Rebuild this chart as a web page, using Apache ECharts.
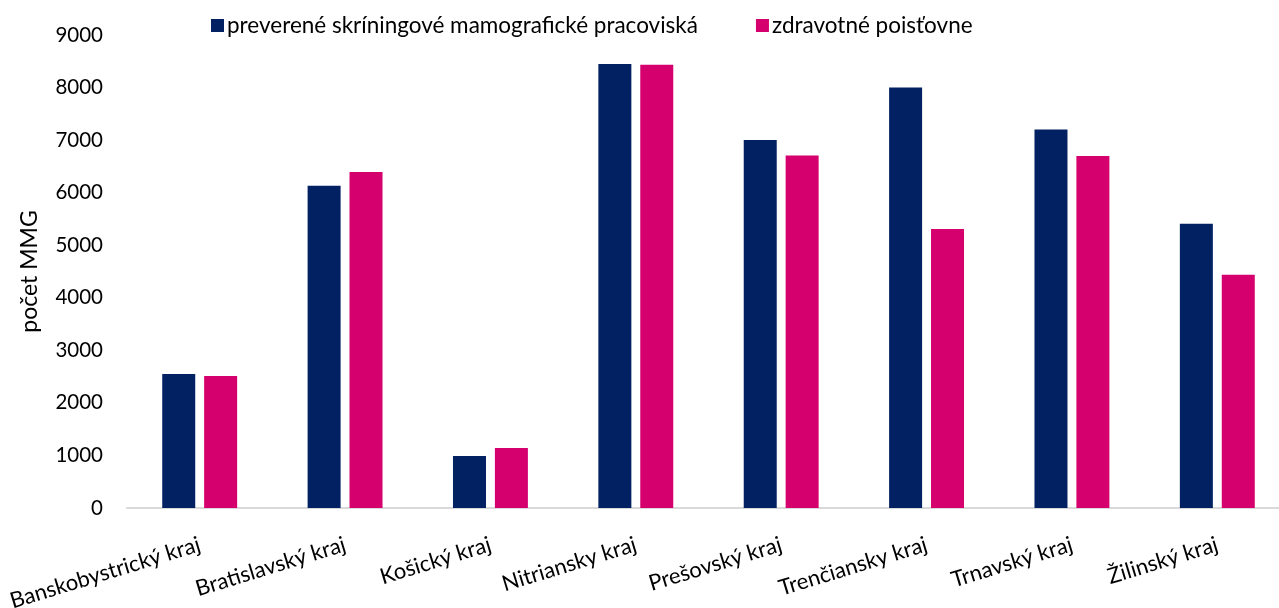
<!DOCTYPE html>
<html>
<head>
<meta charset="utf-8">
<script src="https://cdn.jsdelivr.net/npm/echarts@6/dist/echarts.min.js"></script>
<style>html,body{margin:0;padding:0;background:#fff}#c{width:1279px;height:608px}</style>
</head>
<body>
<div id="c"></div>
<script>
const categories = ['Banskobystrický kraj','Bratislavský kraj','Košický kraj','Nitriansky kraj','Prešovský kraj','Trenčiansky kraj','Trnavský kraj','Žilinský kraj'];
const seriesNames = ['preverené skríningové mamografické pracoviská','zdravotné poisťovne'];
const pracoviska = [2550, 6130, 990, 8450, 7000, 8000, 7200, 5410];
const poistovne = [2510, 6395, 1140, 8435, 6705, 5310, 6700, 4440];
const yTicks = {min: 0, max: 9000, interval: 1000};
const yName = 'počet MMG';

const font = 'Lato, "Open Sans", sans-serif';
const chart = echarts.init(document.getElementById('c'), null, {renderer: 'canvas'});
chart.setOption({
  animation: false,
  textStyle: {fontFamily: font},
  legend: {
    top: 9, left: 206,
    itemWidth: 13, itemHeight: 13, itemGap: 58,
    icon: 'rect',
    textStyle: {fontSize: 22.5, color: '#000', fontFamily: font, padding: [0,0,0,-2]},
    data: seriesNames
  },
  grid: {left: 127, width: 1163, top: 35, bottom: 100, outerBoundsMode: 'none', containLabel: false},
  xAxis: {
    type: 'category', data: categories,
    axisLine: {lineStyle: {color: '#d9d9d9', width: 2}},
    axisTick: {show: false},
    axisLabel: {rotate: 17, fontSize: 22, color: '#000', margin: 36, interval: 0, fontFamily: font}
  },
  yAxis: {
    type: 'value', min: yTicks.min, max: yTicks.max, interval: yTicks.interval,
    name: yName, nameLocation: 'middle', nameGap: 86, nameRotate: 90,
    nameTextStyle: {fontSize: 23, color: '#000', fontFamily: font},
    splitLine: {show: false}, axisLine: {show: false}, axisTick: {show: false},
    axisLabel: {fontSize: 20.5, color: '#000', margin: 24, fontFamily: font,
      formatter: v => String(v)}
  },
  series: [
    {name: seriesNames[0], type: 'bar', data: pracoviska, barWidth: 33, barGap: '27%',
     itemStyle: {color: '#022163'}},
    {name: seriesNames[1], type: 'bar', data: poistovne, barWidth: 33,
     itemStyle: {color: '#D5006D'}}
  ]
});
</script>
</body>
</html>
